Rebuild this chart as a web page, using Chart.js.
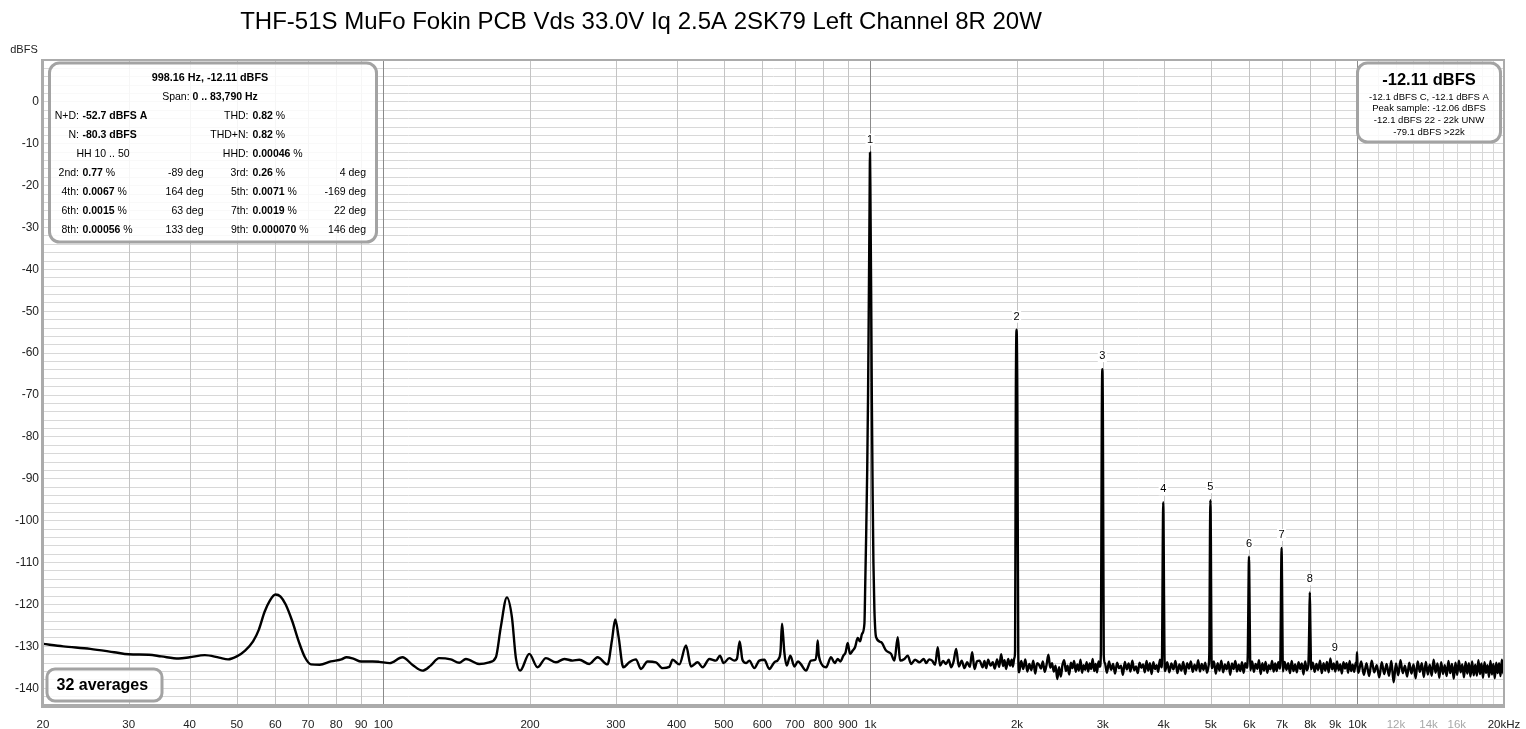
<!DOCTYPE html>
<html><head><meta charset="utf-8">
<script src="https://cdn.jsdelivr.net/npm/chart.js@4.4.1/dist/chart.umd.min.js"></script>
<style>html,body{margin:0;padding:0;background:#fff;}canvas{display:block;}</style>
</head><body>
<canvas id="c" width="1526" height="729"></canvas>
<script>
// ---------- DATA ----------
const chartTitle = 'THF-51S MuFo Fokin PCB Vds 33.0V Iq 2.5A 2SK79 Left Channel 8R 20W';
const yAxisTitle = 'dBFS';

const xTickValues = [20,30,40,50,60,70,80,90,100,200,300,400,500,600,700,800,900,1000,2000,3000,4000,5000,6000,7000,8000,9000,10000,11000,12000,13000,14000,15000,16000,17000,18000,19000,20000];
const xTickLabels = ['20','30','40','50','60','70','80','90','100','200','300','400','500','600','700','800','900','1k','2k','3k','4k','5k','6k','7k','8k','9k','10k','','12k','','14k','','16k','','','','20kHz'];
const xMinorLabelValues = [12000,14000,16000];
const xDecadeValues = [100,1000,10000];

// spectrum: [frequency Hz, level dBFS]
const lowBand = [
[20,-129.4],[22,-130.0],[25,-130.6],[28,-131.4],[30,-131.9],[33,-132.0],[35,-132.4],[38,-132.9],[40,-132.6],[43,-132.1],
[46,-132.7],[48,-133.1],[50,-132.4],[52,-131.0],[54,-128.8],[55.5,-126.0],[57,-121.8],[58.5,-119.0],[60,-117.6],[61.5,-118.1],
[63,-120.0],[65,-124.0],[67,-128.8],[69,-132.6],[71,-134.3],[74,-134.4],[78,-133.6],[82,-133.1],[84,-132.6],[87,-133.0],
[90,-133.6],[95,-133.6],[98,-133.7],[103,-134.0],[109.4,-132.6],[115,-134.5],[120.3,-135.8],[125,-134.6],[130.1,-132.8],[137.5,-133.1],
[143.1,-133.9],[147.7,-133.0],[157.3,-134.2],[164.9,-133.8],[170.2,-132.6],[174.2,-125.4],[179.3,-118.3],[183.6,-123.0],[187.1,-132.8],[190.9,-135.8],
[199.3,-131.8],[207.3,-135.0],[215.6,-132.8],[226.1,-133.8],[235.2,-133.0],[244.6,-133.4],[252.5,-133.2],[264.7,-134.2],[275.3,-132.6],[288.6,-134.3],
[294.6,-128.6],[299.3,-123.6],[304.1,-127.8],[310.9,-135.0],[319.8,-133.8],[330,-133.1],[337.9,-135.4],[348.7,-133.6],[362.7,-133.8],[374.4,-135.2],
[386.4,-134.9],[392.6,-133.2],[405.2,-134.3],[418.2,-129.8],[428.2,-134.8],[441.9,-133.8],[452.5,-135.0],[467,-133.0],[481.9,-133.4],[491.1,-132.2],
[499.5,-134.0],[513.1,-132.8],[525.4,-133.4],[532,-133.0],[539,-128.8],[546,-133.2],[556,-134.0],[564.1,-133.4],[577.6,-135.2],[591.4,-133.4],
[605.6,-133.2],[620.1,-135.4],[634.9,-133.8],[647.9,-133.0],[654,-131.0],[658.3,-124.6],[662,-127.5],[665.7,-131.4],[673.1,-134.6],[684.8,-132.2],
[698,-134.8],[710,-133.6],[720.3,-134.3],[737.5,-135.8],[755.1,-133.4],[770.9,-133.2],[776,-131.5],[779.4,-128.6],[783,-131.8],[788.1,-133.4],
[810.8,-135.0],[830.2,-132.6],[845,-134.0],[856.8,-133.0],[868,-133.6],[880.1,-132.2],[889,-131.5],[898.3,-129.2],[908,-131.8],[919.8,-131.0],
[930,-130.2],[941.8,-128.0],[952,-128.8],[961.4,-127.0]
];
const fundamentalPeak = [
[972.1,-124.6],[976,-115],[980,-104],[985,-88],[989,-70],[993,-45],[996,-25],[998.16,-12.11],
[1000.5,-25],[1003.5,-45],[1007,-72],[1011,-95],[1014.4,-110],[1019,-121],[1027.3,-127.8]
];
const midBand = [
[1051.8,-129.0],[1077,-131.0],[1102.8,-131.8],[1120.3,-133.4],[1138,-127.8],[1150.7,-133.4],[1174.5,-133.0],[1193.1,-132.2],[1212.1,-134.2],[1235,-133.2],
[1261,-133.8],[1287,-133.0],[1302,-134.0],[1320,-133.1],[1339,-133.4],[1358,-134.4],[1375,-130.2],[1390,-134.6],[1410,-133.5],[1430,-134.2],
[1448,-133.2],[1465,-135.0],[1482,-133.6],[1500,-130.6],[1519,-134.8],[1540,-133.4],[1560,-135.2],[1580,-133.8],[1600,-134.9],[1618,-131.4],
[1636,-135.4],[1655,-133.6],[1675,-133.4],[1700,-135.0],[1715,-133.5],[1729,-135.2],[1745,-133.2],[1765,-134.6],[1784,-133.8],[1800,-135.3],
[1820,-133.1],[1838,-134.9],[1856,-131.9],[1872,-134.7],[1885,-133.3],[1900,-135.4],[1918,-133.0],[1935,-134.6],[1950,-133.2],[1961,-134.8],[1975,-132.8]
];
const harmonicPeaks = [
[1982,-131],[1989,-70],[1996,-54.4],[2003,-70],[2012,-132],
[2974,-131],[2986,-76],[2994,-63.8],[3002,-76],[3014,-132],
[3972,-131],[3984,-106],[3993,-95.6],[4002,-106],[4016,-132],
[4966,-131],[4980,-105],[4991,-95.1],[5002,-105],[5016,-132],
[5958,-131],[5975,-117],[5989,-108.6],[6003,-117],[6020,-132],
[6952,-131],[6971,-115],[6987,-106.5],[7003,-115],[7022,-132],
[7948,-131],[7967,-124],[7985,-117.1],[8003,-124],[8022,-132]
];
const extraPoints = [[9960,-134.0],[9982,-131.4],[10005,-134.8],[20000,-134.4]];

// noise floor between harmonics: FFT-bin style segments (start Hz, bin step Hz, levels dBFS)
const noiseStart = [2020,3030,4030,5030,6030,7030,8030,10050];
const noiseStep  = [20,30,40,45,50,60,70,130];
const noiseDb = [
 [-136.2,-133.5,-135.4,-133.1,-136.0,-134.2,-135.7,-133.4,-136.5,-134.0,
  -134.4,-135.3,-133.6,-136.1,-134.4,-132.0,-135.1,-134.0,-136.0,-134.6,
  -137.8,-135.0,-137.2,-134.4,-133.3,-135.9,-134.6,-136.7,-133.9,-135.2,
  -133.5,-136.1,-134.3,-135.8,-133.2,-136.3,-134.5,-135.6,-133.8,-136.0,
  -134.1,-135.4,-133.0,-135.9,-134.2,-136.2,-133.6,-134.9],
 [-134.0,-136.3,-133.6,-135.6,-134.2,-136.5,-133.9,-135.2,-134.6,-136.8,
  -133.7,-135.5,-134.1,-136.0,-133.4,-135.7,-134.8,-136.4,-133.9,-135.1,
  -134.3,-136.2,-133.5,-135.8,-134.0,-136.6,-133.8,-135.4,-134.5,-136.1,
  -133.2,-135.0],
 [-135.9,-133.8,-136.2,-134.1,-135.5,-133.5,-136.4,-134.3,-135.8,-133.7,
  -136.6,-134.0,-135.3,-133.6,-136.1,-134.4,-135.7,-133.3,-136.0,-134.2,
  -135.6,-133.9,-136.3,-134.5],
 [-135.2,-133.6,-136.5,-134.0,-135.8,-133.4,-136.2,-134.3,-135.5,-133.7,
  -136.8,-134.1,-135.4,-133.5,-136.0,-134.4,-135.9,-133.8,-136.3,-134.0,
  -135.1],
 [-135.7,-133.6,-136.1,-134.2,-135.4,-133.3,-136.6,-134.0,-135.8,-133.7,
  -136.3,-134.5,-135.5,-133.5,-136.0,-134.1,-135.9,-133.8,-135.3],
 [-136.0,-133.7,-135.6,-134.0,-136.4,-133.5,-135.9,-134.3,-136.2,-133.8,
  -135.4,-134.1,-136.7,-133.6,-135.7,-134.4],
 [-135.5,-133.9,-136.1,-134.2,-135.6,-133.4,-136.4,-134.0,-135.8,-133.7,
  -136.2,-132.9,-135.5,-134.1,-136.0,-133.6,-135.7,-134.3,-136.5,-133.8,
  -135.3,-134.0,-136.3,-133.5,-135.9,-134.4,-136.1,-133.9],
 [-136.3,-133.6,-136.8,-134.0,-137.1,-133.4,-136.2,-134.5,-137.4,-133.8,
  -136.6,-134.2,-137.0,-133.5,-138.6,-134.1,-136.9,-133.3,-136.4,-134.6,
  -137.2,-133.9,-136.5,-134.3,-137.6,-133.6,-136.1,-134.0,-137.3,-133.7,
  -136.7,-134.4,-137.0,-133.2,-136.3,-134.1,-137.5,-133.8,-136.6,-134.5,
  -137.1,-133.5,-136.4,-134.2,-137.7,-133.9,-136.8,-133.4,-136.2,-134.3,
  -137.4,-133.7,-136.5,-134.0,-137.2,-133.6,-136.9,-134.4,-137.0,-133.3,
  -136.6,-134.1,-137.5,-133.8,-136.3,-134.5,-137.3,-133.5,-136.7,-134.2,
  -137.6,-133.9,-136.4,-134.0,-137.1,-133.2,-136.5]
];

// harmonic markers
const harmNumbers = ['1','2','3','4','5','6','7','8','9'];
const harmFreqs = [998.16,1996,2994,3993,4991,5989,6987,7985,8983];

// measurement panel text
const peakHeadline = '998.16 Hz, -12.11 dBFS';
const spanText = '0 .. 83,790 Hz';
const ndText = '-52.7 dBFS A';
const nText = '-80.3 dBFS';
const thdText = '0.82';
const thdnText = '0.82';
const hhText = 'HH 10 .. 50';
const hhdText = '0.00046';
const harmOrder = ['2nd','3rd','4th','5th','6th','7th','8th','9th'];
const harmPct = ['0.77','0.26','0.0067','0.0071','0.0015','0.0019','0.00056','0.000070'];
const harmDeg = ['-89','4','164','-169','63','22','133','146'];
const levelHeadline = '-12.11 dBFS';
const levelLines = ['-12.1 dBFS C, -12.1 dBFS A','Peak sample: -12.06 dBFS','-12.1 dBFS 22 - 22k UNW','-79.1 dBFS >22k'];
const averagesText = '32 averages';

// ---------- CHART ----------
const FONT = '"Liberation Sans", Arial, Helvetica, sans-serif';
Chart.defaults.font.family = FONT;

const noisePoints = [];
noiseDb.forEach((seg, s) => seg.forEach((db, i) => noisePoints.push([noiseStart[s] + i * noiseStep[s], db])));
const points = [...lowBand, ...fundamentalPeak, ...midBand, ...harmonicPeaks, ...noisePoints, ...extraPoints]
  .sort((a, b) => a[0] - b[0])
  .map(p => ({x: p[0], y: p[1]}));

function roundRect(ctx, x, y, w, h, r) {
  ctx.beginPath();
  ctx.moveTo(x + r, y);
  ctx.lineTo(x + w - r, y);
  ctx.arcTo(x + w, y, x + w, y + r, r);
  ctx.lineTo(x + w, y + h - r);
  ctx.arcTo(x + w, y + h, x + w - r, y + h, r);
  ctx.lineTo(x + r, y + h);
  ctx.arcTo(x, y + h, x, y + h - r, r);
  ctx.lineTo(x, y + r);
  ctx.arcTo(x, y, x + r, y, r);
  ctx.closePath();
}
function panel(ctx, x, y, w, h, r) {
  roundRect(ctx, x, y, w, h, r);
  ctx.fillStyle = 'rgba(255,255,255,0.85)';
  ctx.fill();
  ctx.lineWidth = 3;
  ctx.strokeStyle = '#a3a3a3';
  ctx.stroke();
}
function segs(ctx, x, y, parts, size) {
  let cx = x;
  ctx.textAlign = 'left';
  for (const [t, b] of parts) {
    ctx.font = (b ? 'bold ' : '') + size + 'px ' + FONT;
    ctx.fillText(t, cx, y);
    cx += ctx.measureText(t).width;
  }
  return cx;
}
function segsWidth(ctx, parts, size) {
  let w = 0;
  for (const [t, b] of parts) { ctx.font = (b ? 'bold ' : '') + size + 'px ' + FONT; w += ctx.measureText(t).width; }
  return w;
}
function segsCenter(ctx, cx, y, parts, size) {
  const w = segsWidth(ctx, parts, size);
  segs(ctx, cx - w / 2, y, parts, size);
}

const overlay = {
  id: 'overlay',
  beforeDatasetsDraw(chart) {
    const {ctx, chartArea: a, scales: {x}} = chart;
    ctx.save();
    ctx.lineWidth = 1;
    xTickValues.forEach(v => {
      if (v <= 20 || v >= 20000) return;
      const px = Math.round(x.getPixelForValue(v)) + 0.5;
      ctx.strokeStyle = xDecadeValues.includes(v) ? '#8a8a8a' : (v > 10000 ? '#d8d8d8' : '#c4c4c4');
      ctx.beginPath();
      ctx.moveTo(px, a.top);
      ctx.lineTo(px, a.bottom);
      ctx.stroke();
    });
    ctx.restore();
  },
  afterDatasetsDraw(chart) {
    const {ctx, chartArea: a} = chart;
    ctx.save();
    ctx.strokeStyle = '#ababab';
    ctx.lineWidth = 2;
    ctx.strokeRect(a.left, a.top, a.right - a.left, a.bottom - a.top);
    ctx.lineWidth = 3;
    ctx.beginPath();
    ctx.moveTo(a.left - 0.5, a.top - 1); ctx.lineTo(a.left - 0.5, a.bottom + 1.5);
    ctx.lineTo(a.right + 1, a.bottom + 1.5);
    ctx.stroke();
    ctx.restore();
  },
  afterDraw(chart) {
    const {ctx, scales: {x, y}} = chart;
    ctx.save();
    ctx.fillStyle = '#000';
    ctx.textBaseline = 'middle';
    ctx.font = '24px ' + FONT;
    ctx.textAlign = 'center';
    ctx.fillText(chartTitle, 641, 22);
    ctx.font = '11px ' + FONT;
    ctx.fillStyle = '#222';
    ctx.fillText(yAxisTitle, 24, 50);

    // harmonic labels
    ctx.font = '11px ' + FONT;
    harmFreqs.forEach((f, i) => {
      let top = -Infinity;
      for (const p of points) if (p.x > f * 0.988 && p.x < f * 1.012 && p.y > top) top = p.y;
      const px = x.getPixelForValue(f);
      const py = y.getPixelForValue(top) - 13;
      const w = ctx.measureText(harmNumbers[i]).width;
      ctx.fillStyle = '#fff';
      ctx.fillRect(px - w / 2 - 1.5, py - 6, w + 3, 12);
      ctx.fillStyle = '#000';
      ctx.textAlign = 'center';
      ctx.fillText(harmNumbers[i], px, py);
    });

    // measurement panel (top left)
    panel(ctx, 49.5, 63, 327, 179, 10);
    ctx.fillStyle = '#000';
    const fs = 10.5;
    const rowY = [78, 97, 116, 135, 154, 173, 192, 211, 230];
    const lab1 = 79, val1 = 82.5, deg1 = 203.5, lab2 = 248.5, val2 = 252.5, deg2 = 366;
    segsCenter(ctx, 210, rowY[0], [[peakHeadline, true]], 10.8);
    segsCenter(ctx, 210, rowY[1], [['Span: ', false], [spanText, true]], fs);
    const label = (t, xr, yy) => { ctx.font = fs + 'px ' + FONT; ctx.textAlign = 'right'; ctx.fillText(t, xr, yy); };
    label('N+D:', lab1, rowY[2]); segs(ctx, val1, rowY[2], [[ndText, true]], fs);
    label('THD:', lab2, rowY[2]); segs(ctx, val2, rowY[2], [[thdText, true], [' %', false]], fs);
    label('N:', lab1, rowY[3]); segs(ctx, val1, rowY[3], [[nText, true]], fs);
    label('THD+N:', lab2, rowY[3]); segs(ctx, val2, rowY[3], [[thdnText, true], [' %', false]], fs);
    segsCenter(ctx, 103, rowY[4], [[hhText, false]], fs);
    label('HHD:', lab2, rowY[4]); segs(ctx, val2, rowY[4], [[hhdText, true], [' %', false]], fs);
    for (let r = 0; r < 4; r++) {
      const yy = rowY[5 + r];
      const i1 = r * 2, i2 = r * 2 + 1;
      label(harmOrder[i1] + ':', lab1, yy); segs(ctx, val1, yy, [[harmPct[i1], true], [' %', false]], fs);
      label(harmDeg[i1] + ' deg', deg1, yy);
      label(harmOrder[i2] + ':', lab2, yy); segs(ctx, val2, yy, [[harmPct[i2], true], [' %', false]], fs);
      label(harmDeg[i2] + ' deg', deg2, yy);
    }

    // level panel (top right)
    panel(ctx, 1357.5, 63, 143, 79, 10);
    ctx.fillStyle = '#000';
    ctx.textAlign = 'center';
    ctx.font = 'bold 16.5px ' + FONT;
    ctx.fillText(levelHeadline, 1429, 80.5);
    ctx.font = '9.5px ' + FONT;
    [97, 108.7, 120.3, 132].forEach((yy, i) => ctx.fillText(levelLines[i], 1429, yy));

    // averages panel
    panel(ctx, 47, 669, 115, 32, 8);
    ctx.fillStyle = '#000';
    ctx.textAlign = 'left';
    ctx.font = 'bold 16px ' + FONT;
    ctx.fillText(averagesText, 56.5, 686);
    ctx.restore();
  }
};

new Chart(document.getElementById('c'), {
  type: 'line',
  data: {
    datasets: [{
      data: points,
      borderColor: '#000',
      borderWidth: 2.4,
      pointRadius: 0,
      fill: false,
      cubicInterpolationMode: 'monotone'
    }]
  },
  options: {
    responsive: false,
    animation: false,
    devicePixelRatio: 1,
    layout: {padding: {left: 0, top: 60, right: 22, bottom: 0}},
    plugins: {legend: {display: false}, tooltip: {enabled: false}, title: {display: false}},
    scales: {
      x: {
        type: 'logarithmic',
        min: 20, max: 20000,
        afterBuildTicks: s => { s.ticks = xTickValues.map(v => ({value: v})); },
        afterFit: s => { s.height = 24; },
        border: {display: false},
        grid: {display: false},
        ticks: {
          autoSkip: false, maxRotation: 0, minRotation: 0, padding: 5,
          font: {size: 11.5},
          color: c => xMinorLabelValues.includes(c.tick && c.tick.value) ? '#a8a8a8' : '#222',
          callback: (v, i) => xTickLabels[i]
        }
      },
      y: {
        type: 'linear',
        min: -144, max: 10,
        afterFit: s => { s.width = 43; },
        border: {display: false},
        grid: {drawTicks: false, color: '#d8d8d8', lineWidth: 1},
        ticks: {
          stepSize: 2, autoSkip: false, padding: 4,
          font: {size: 12}, color: '#222',
          callback: v => (v % 10 === 0 && v <= 0 && v >= -140) ? String(v) : ''
        }
      }
    }
  },
  plugins: [overlay]
});
</script>
</body></html>
